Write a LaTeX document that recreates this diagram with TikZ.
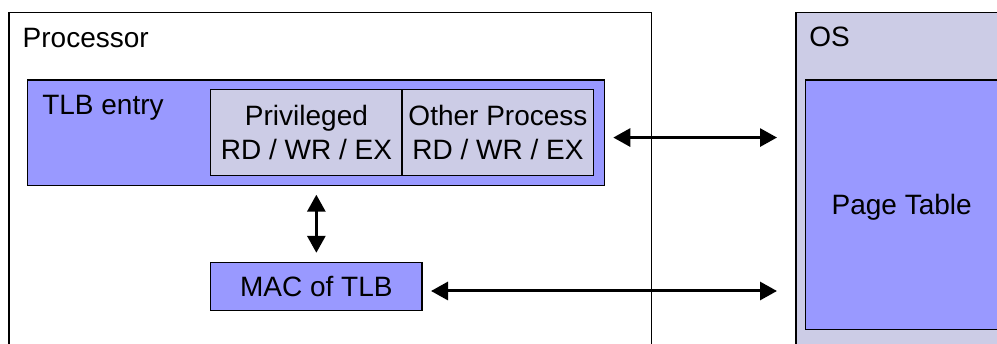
\documentclass[tikz,border=0pt]{standalone}
\usepackage{fontspec}
\setmainfont{Liberation Sans}
\usetikzlibrary{arrows.meta}
\definecolor{lavender}{RGB}{204,204,230}
\definecolor{periwinkle}{RGB}{153,153,255}
\begin{document}
\begin{tikzpicture}[x=1pt,y=-1pt,
  frame/.style={draw=black, line width=1.5pt, inner sep=0pt, outer sep=0pt, anchor=north west},
  textfont/.style={font=\fontsize{28pt}{34.3pt}\selectfont},
  label/.style={textfont, anchor=base west, inner sep=0pt, outer sep=0pt},
  field/.style={frame, fill=lavender, textfont, align=center, minimum width=191.5pt, minimum height=86.4pt},
  biarrow/.style={line width=3pt, {Triangle[length=17pt,width=18pt]}-{Triangle[length=17pt,width=18pt]}}]
\useasboundingbox (0,0) rectangle (997,344);
\begin{scope}
\clip (0,0) rectangle (997,344);
% containers
\node[frame, fill=white, minimum width=642.7pt, minimum height=400pt] (proc) at (9,12.7) {};
\node[label] (proclabel) at (22.7,47.7) {Processor};
\node[frame, fill=lavender, minimum width=260pt, minimum height=400pt] (os) at (796,12.7) {};
\node[label] (oslabel) at (809.3,46.7) {OS};
% page table
\node[frame, fill=periwinkle, textfont, text depth=0pt, minimum width=192pt, minimum height=249.3pt] (pt) at (805.7,80) {Page Table};
% TLB entry with its permission fields
\node[frame, fill=periwinkle, minimum width=576.6pt, minimum height=105.7pt] (tlb) at (27.7,80) {};
\node[label] (tlblabel) at (42.3,115) {TLB entry};
\node[field] (priv) at (210.7,89.3) {Privileged\\RD / WR / EX};
\node[field, anchor=north west] (other) at (priv.north east) {Other Process\\RD / WR / EX};
% MAC
\node[frame, fill=periwinkle, textfont, text depth=0pt, minimum width=211.3pt, minimum height=48.4pt] (mac) at (210.7,262.3) {MAC of TLB};
% connectors
\draw[biarrow, shorten <=9pt, shorten >=9.5pt] (tlb.south -| mac.north) -- (mac.north);
\draw[biarrow, shorten <=9pt, shorten >=19pt] ([yshift=-4.7pt]tlb.east) -- ([yshift=-4.7pt]tlb.east -| os.west);
\draw[biarrow, shorten <=9pt, shorten >=19pt] ([yshift=-4.5pt]mac.east) -- ([yshift=-4.5pt]mac.east -| os.west);
\end{scope}
\end{tikzpicture}
\end{document}
